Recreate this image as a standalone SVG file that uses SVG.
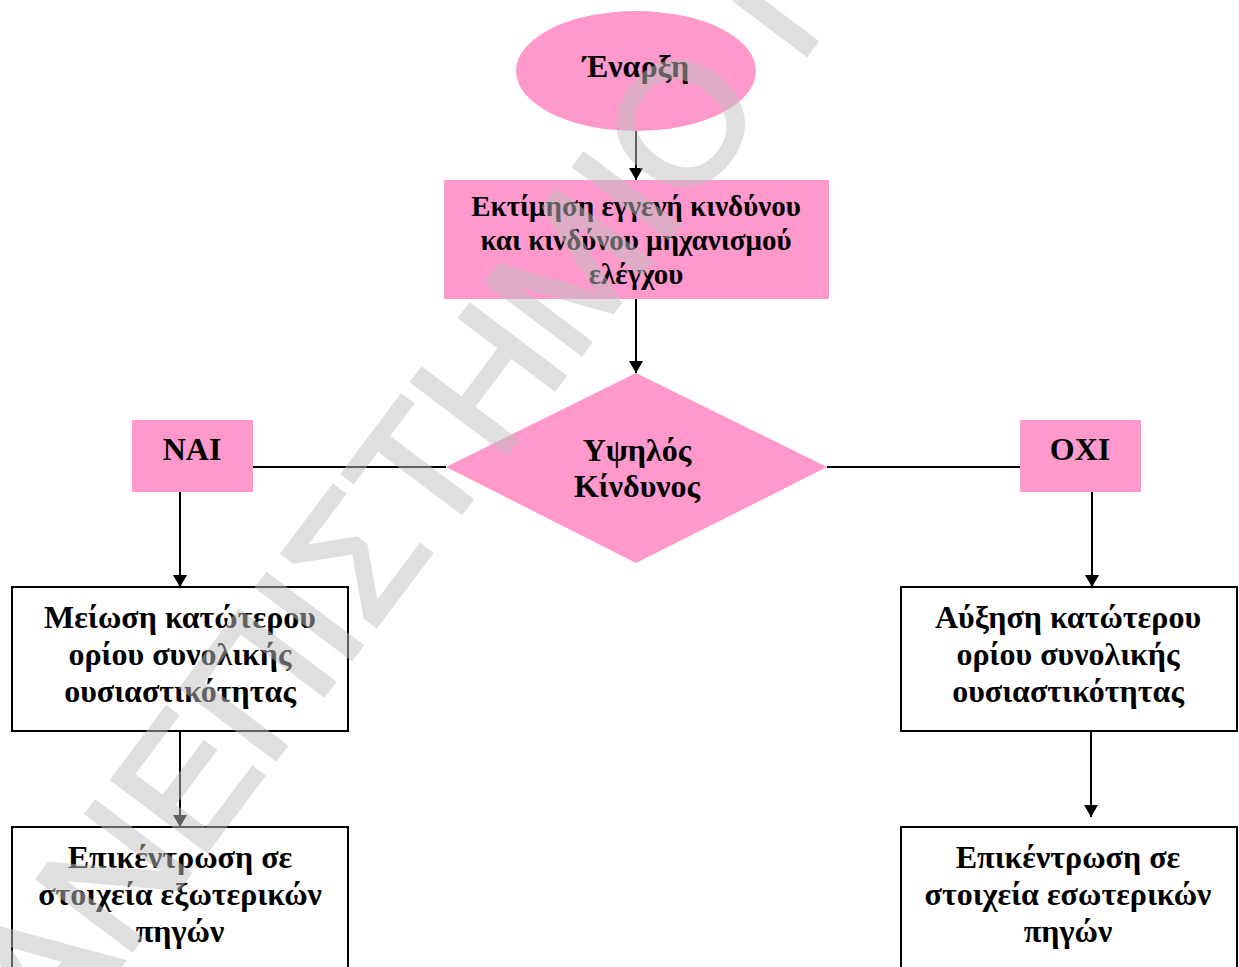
<svg xmlns="http://www.w3.org/2000/svg" width="1239" height="967" viewBox="0 0 1239 967">
  <style>
    .pink { fill: #ff99cc; stroke: none; }
    .box { fill: #ffffff; stroke: #000000; stroke-width: 2; }
    .lbl { font-family: "Liberation Serif", "Times New Roman", serif; font-weight: bold; font-size: 32px; fill: #000000; text-anchor: middle; }
    .lbl-sm { font-size: 29px; }
    .wire { fill: none; stroke: #000000; stroke-width: 2; }
    .mark { font-family: "Liberation Sans", Arial, sans-serif; font-size: 172px; fill: #c0c0c0; stroke: #c0c0c0; stroke-width: 4; stroke-linejoin: miter; opacity: 0.5; }
  </style>
  <defs>
    <marker id="arrow" viewBox="0 0 12 14" refX="12" refY="7" markerWidth="12" markerHeight="14" markerUnits="userSpaceOnUse" orient="auto">
      <path d="M0,0 L12,7 L0,14 Z" fill="#000000"/>
    </marker>
  </defs>

  <rect width="1239" height="967" fill="#ffffff"/>

  <!-- connectors -->
  <g id="connectors">
    <line class="wire" x1="636" y1="131" x2="636" y2="180" marker-end="url(#arrow)"/>
    <line class="wire" x1="636" y1="299" x2="636" y2="373" marker-end="url(#arrow)"/>
    <line class="wire" x1="253" y1="467" x2="446" y2="467"/>
    <line class="wire" x1="827" y1="467" x2="1020" y2="467"/>
    <line class="wire" x1="180" y1="492" x2="180" y2="587" marker-end="url(#arrow)"/>
    <line class="wire" x1="180" y1="731" x2="180" y2="827" marker-end="url(#arrow)"/>
    <line class="wire" x1="1092" y1="492" x2="1092" y2="587" marker-end="url(#arrow)"/>
    <line class="wire" x1="1091" y1="721" x2="1091" y2="817" marker-end="url(#arrow)"/>
  </g>

  <!-- start terminal -->
  <g id="start">
    <ellipse class="pink" cx="636" cy="71" rx="120" ry="60"/>
    <text class="lbl" x="636" y="77">Έναρξη</text>
  </g>

  <!-- risk assessment step -->
  <g id="assess">
    <rect class="pink" x="444" y="180" width="385" height="119"/>
    <text class="lbl lbl-sm" x="636" y="216">Εκτίμηση εγγενή κινδύνου</text>
    <text class="lbl lbl-sm" x="636" y="250">και κινδύνου μηχανισμού</text>
    <text class="lbl lbl-sm" x="636" y="284">ελέγχου</text>
  </g>

  <!-- decision -->
  <g id="decision">
    <polygon class="pink" points="636,373 827,467 636,563 446,467"/>
    <text class="lbl" x="637" y="461">Υψηλός</text>
    <text class="lbl" x="637" y="497">Κίνδυνος</text>
  </g>

  <g id="yes">
    <rect class="pink" x="132" y="420" width="121" height="72"/>
    <text class="lbl" x="192" y="460">ΝΑΙ</text>
  </g>

  <g id="no">
    <rect class="pink" x="1020" y="420" width="121" height="72"/>
    <text class="lbl" x="1080" y="460">ΟΧΙ</text>
  </g>

  <g id="lower-threshold">
    <rect class="box" x="12" y="587" width="336" height="144"/>
    <text class="lbl" x="180" y="628">Μείωση κατώτερου</text>
    <text class="lbl" x="180" y="665">ορίου συνολικής</text>
    <text class="lbl" x="180" y="702">ουσιαστικότητας</text>
  </g>

  <g id="external-focus">
    <rect class="box" x="12" y="827" width="336" height="150"/>
    <text class="lbl" x="180" y="868">Επικέντρωση σε</text>
    <text class="lbl" x="180" y="905">στοιχεία εξωτερικών</text>
    <text class="lbl" x="180" y="942">πηγών</text>
  </g>

  <g id="raise-threshold">
    <rect class="box" x="901" y="587" width="336" height="144"/>
    <text class="lbl" x="1068" y="628">Αύξηση κατώτερου</text>
    <text class="lbl" x="1068" y="665">ορίου συνολικής</text>
    <text class="lbl" x="1068" y="702">ουσιαστικότητας</text>
  </g>

  <g id="internal-focus">
    <rect class="box" x="901" y="827" width="336" height="150"/>
    <text class="lbl" x="1068" y="868">Επικέντρωση σε</text>
    <text class="lbl" x="1068" y="905">στοιχεία εσωτερικών</text>
    <text class="lbl" x="1068" y="942">πηγών</text>
  </g>

  <!-- diagonal watermark over the chart -->
  <text class="mark" transform="translate(-20,1152) rotate(-53)">ΠΑΝΕΠΙΣΤΗΜΙΟ Ι</text>
</svg>
